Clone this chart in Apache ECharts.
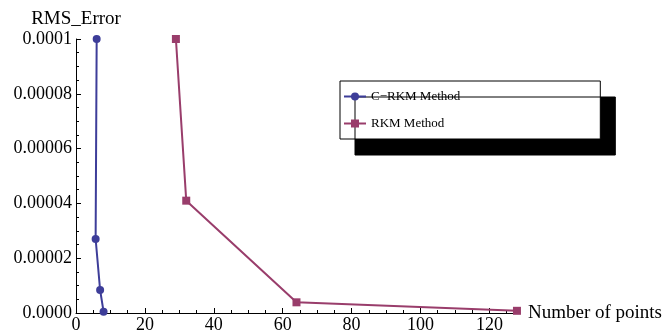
<!DOCTYPE html>
<html><head><meta charset="utf-8">
<script src="https://cdn.jsdelivr.net/npm/echarts@6/dist/echarts.min.js"></script>
<style>html,body{margin:0;padding:0;background:#fff}#c{width:665px;height:335px}</style>
</head><body><div id="c"></div>
<script>
const seriesNames = ['C\u2212RKM Method', 'RKM Method'];
const crkmX = [6, 5.7, 7, 8];
const crkmY = [0.0001, 0.000027, 0.0000084, 0.0000005];
const rkmX = [29, 32, 64, 128];
const rkmY = [0.0001, 0.000041, 0.0000039, 0.0000008];
const yTickLabels = ['0.0000', '0.00002', '0.00004', '0.00006', '0.00008', '0.0001'];
const xTicks = [0, 20, 40, 60, 80, 100, 120];

const font = '"Liberation Serif", "Times New Roman", serif';
const chart = echarts.init(document.getElementById('c'));
chart.setOption({
  animation: false,
  backgroundColor: '#fff',
  textStyle: {fontFamily: font},
  grid: {left: 76, right: 145, top: 39, bottom: 22, containLabel: false},
  xAxis: {
    type: 'value', min: 0, max: 128, interval: 20,
    name: 'Number of points', nameLocation: 'end', nameGap: 11,
    nameTextStyle: {fontFamily: font, fontSize: 19, color: '#000', verticalAlign: 'middle'},
    axisLine: {lineStyle: {color: '#000', width: 1}},
    axisTick: {inside: true, length: 5, lineStyle: {color: '#000'}},
    minorTick: {show: true, splitNumber: 4, length: 3, lineStyle: {color: '#000'}},
    axisLabel: {fontFamily: font, fontSize: 18, color: '#000', margin: 3,
      formatter: v => xTicks.indexOf(v) >= 0 ? String(v) : ''},
    splitLine: {show: false}
  },
  yAxis: {
    type: 'value', min: 0, max: 0.0001, interval: 0.00002,
    name: 'RMS_Error', nameLocation: 'end', nameGap: 10,
    nameTextStyle: {fontFamily: font, fontSize: 19, color: '#000', align: 'center'},
    axisLine: {show: true, lineStyle: {color: '#000', width: 1}},
    axisTick: {inside: true, length: 5, lineStyle: {color: '#000'}},
    minorTick: {show: true, splitNumber: 4, length: 3, lineStyle: {color: '#000'}},
    axisLabel: {fontFamily: font, fontSize: 18, color: '#000', margin: 4,
      formatter: v => yTickLabels[Math.round(v / 0.00002)]},
    splitLine: {show: false}
  },
  legend: {
    orient: 'vertical', left: 340, top: 81,
    data: seriesNames,
    itemWidth: 22, itemHeight: 10, itemGap: 14,
    padding: [9, 140, 9, 3],
    backgroundColor: '#fff', borderColor: '#000', borderWidth: 1,
    shadowColor: '#000', shadowBlur: 0, shadowOffsetX: 15, shadowOffsetY: 16,
    textStyle: {fontFamily: font, fontSize: 13, color: '#000'}
  },
  series: [
    {name: seriesNames[0], type: 'line', data: crkmX.map((x, i) => [x, crkmY[i]]),
     symbol: 'circle', symbolSize: 8, color: '#3d3d99', lineStyle: {width: 2, color: '#3d3d99'}},
    {name: seriesNames[1], type: 'line', data: rkmX.map((x, i) => [x, rkmY[i]]),
     symbol: 'rect', symbolSize: 8, color: '#993d6b', lineStyle: {width: 2, color: '#993d6b'}}
  ]
});
</script></body></html>
